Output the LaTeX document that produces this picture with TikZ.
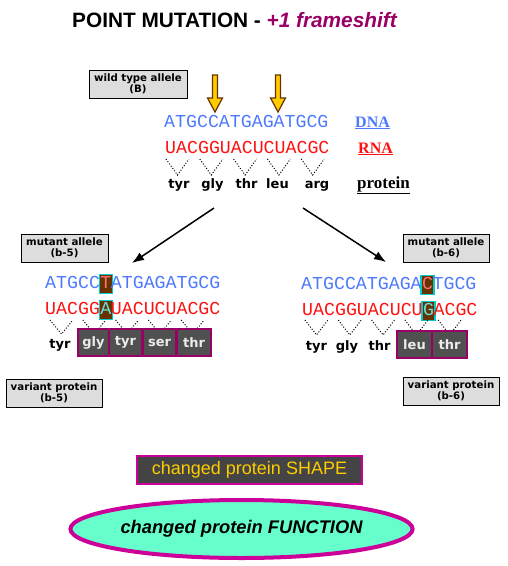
\documentclass[tikz,border=0pt]{standalone}
\usepackage{fontspec}
\setmainfont{Liberation Sans}
\newfontfamily\seqfont{Liberation Mono}
\newfontfamily\pixfont{DejaVu Sans}
\newfontfamily\labfont{Liberation Serif}
\usetikzlibrary{arrows.meta,shapes.geometric}

\definecolor{dnablue}{RGB}{77,121,255}
\definecolor{rnared}{RGB}{255,17,17}
\definecolor{titlepurple}{RGB}{153,0,102}
\definecolor{boxgray}{RGB}{221,221,221}
\definecolor{mutbrown}{RGB}{102,51,0}
\definecolor{mutcyan}{RGB}{0,204,204}
\definecolor{protgray}{RGB}{80,80,80}
\definecolor{shapegray}{RGB}{68,68,68}
\definecolor{magentaedge}{RGB}{204,0,153}
\definecolor{aqua}{RGB}{102,255,204}
\definecolor{gold}{RGB}{255,204,0}

\tikzset{
  seq/.style={anchor=base west,inner sep=0pt,font=\seqfont\fontsize{18.25}{20}\selectfont},
  mutletter/.style={seq,fill=mutbrown,draw=mutcyan,line width=1.2pt,
    inner xsep=1pt,text height=12pt,text depth=4pt,inner ysep=1.5pt},
  allelebox/.style={draw=black,fill=boxgray,line width=0.8pt,minimum width=#1,
    minimum height=28pt,align=center,inner sep=0pt,
    font=\pixfont\bfseries\fontsize{10.2}{11.5}\selectfont},
  aminoacid/.style={anchor=base,inner sep=0pt,font=\pixfont\bfseries\fontsize{13}{15}\selectfont},
  protbox/.style={draw=titlepurple,fill=protgray,line width=1.6pt,minimum width=#1,
    minimum height=27pt,inner sep=0pt,text=white!92!black,
    font=\pixfont\bfseries\fontsize{13}{15}\selectfont},
  codonv/.style={line width=1pt,dash pattern=on 1pt off 1.8pt},
  seqlabel/.style={anchor=base west,inner sep=0pt,font=\labfont\bfseries\fontsize{16}{18}\selectfont},
  goldarrow/.style={fill=gold,draw=mutbrown,line width=1.2pt,line join=miter},
  splitarrow/.style={line width=1.5pt,-{Latex[length=12pt,width=9pt]}}
}

\begin{document}
\begin{tikzpicture}[x=1pt,y=-1pt]
\useasboundingbox (0,0) rectangle (508,566);

% title
\node[anchor=base west,inner sep=0pt,font=\bfseries\fontsize{20.8}{23}\selectfont] (title) at (72,27)
  {POINT MUTATION - \textcolor{titlepurple}{\itshape +1 frameshift}};

% wild type
\node[allelebox=98pt] (wtallele) at (138,84) {wild type allele\\(B)};
\foreach \ax in {215,278}
  \draw[goldarrow] (\ax-2.5,75) -- (\ax+2.5,75) -- (\ax+2.5,98) -- (\ax+7.5,98)
    -- (\ax,112) -- (\ax-7.5,98) -- (\ax-2.5,98) -- cycle;
\node[seq,text=dnablue] (wtdna) at (164,127) {ATGCCATGAGATGCG};
\node[seq,text=rnared] (wtrna) at (165,153) {UACGGUACUCUACGC};
\node[seqlabel,text=dnablue] (dnalabel) at (355,127) {\underline{DNA}};
\node[seqlabel,text=rnared] (rnalabel) at (358,153) {\underline{RNA}};
\node[seqlabel,font=\labfont\bfseries\fontsize{17}{19}\selectfont] (protlabel) at (357,188) {\underline{protein}};
\foreach \k in {0,...,4}
  \draw[codonv] (166+33.8*\k,159) -- ++(11.5,16) -- ++(11.5,-16);
\node[aminoacid] (wt1) at (179,188) {tyr};
\node[aminoacid] (wt2) at (212.5,188) {gly};
\node[aminoacid] (wt3) at (246.5,188) {thr};
\node[aminoacid] (wt4) at (277.5,188) {leu};
\node[aminoacid] (wt5) at (317,188) {arg};

% split arrows
\coordinate (splitL) at (214,208);
\coordinate (splitR) at (303,208);
\coordinate (endL) at (132,263);
\coordinate (endR) at (386,262);
\draw[splitarrow] (splitL) -- (endL);
\draw[splitarrow] (splitR) -- (endR);

% mutant b-5
\node[allelebox=87pt] (allele5) at (64.5,248) {mutant allele\\(b-5)};
\node[seq,text=dnablue] (dna5a) at (45,288) {ATGCC};
\node[mutletter,text=rnared!60!white] (mut5t) at (45+5*10.95-1,288) {T};
\node[seq,text=dnablue] (dna5b) at (45+6*10.95,288) {ATGAGATGCG};
\node[seq,text=rnared] (rna5a) at (45,314) {UACGG};
\node[mutletter,text=mutcyan!60!white] (mut5a) at (45+5*10.95-1,314) {A};
\node[seq,text=rnared] (rna5b) at (45+6*10.95,314) {UACUCUACGC};
\foreach \k in {0,...,4}
  \draw[codonv] (50+32.8*\k,320) -- ++(11.5,14) -- ++(11.5,-14);
\node[aminoacid] (p5a) at (60,348) {tyr};
\node[protbox=31pt] (p5b) at (93.5,342.5) {gly};
\node[protbox=33pt] (p5c) at (125.5,342.5) {tyr};
\node[protbox=33pt] (p5d) at (159.5,342.5) {ser};
\node[protbox=34pt] (p5e) at (194,342.5) {thr};
\node[allelebox=96pt] (variant5) at (54,393) {variant protein\\(b-5)};

% mutant b-6
\node[allelebox=86pt] (allele6) at (446,248) {mutant allele\\(b-6)};
\node[seq,text=dnablue] (dna6a) at (301,289) {ATGCCATGAGA};
\node[mutletter,text=rnared!60!white] (mut6c) at (301+11*10.95-1,289) {C};
\node[seq,text=dnablue] (dna6b) at (301+12*10.95,289) {TGCG};
\node[seq,text=rnared] (rna6a) at (302,315) {UACGGUACUCU};
\node[mutletter,text=mutcyan!60!white] (mut6g) at (302+11*10.95-1,315) {G};
\node[seq,text=rnared] (rna6b) at (302+12*10.95,315) {ACGC};
\foreach \k in {0,...,4}
  \draw[codonv] (305+33.3*\k,320) -- ++(11.5,15) -- ++(11.5,-15);
\node[aminoacid] (p6a) at (316.5,350) {tyr};
\node[aminoacid] (p6b) at (347,350) {gly};
\node[aminoacid] (p6c) at (379.5,350) {thr};
\node[protbox=35pt] (p6d) at (414.5,344.5) {leu};
\node[protbox=35pt] (p6e) at (449.5,344.5) {thr};
\node[allelebox=96pt] (variant6) at (451,391) {variant protein\\(b-6)};

% consequences
\node[draw=magentaedge,fill=shapegray,line width=2pt,minimum width=225pt,minimum height=28pt,
  inner sep=0pt,text=gold,font=\fontsize{18}{20}\selectfont] (shape) at (249.5,470)
  {changed protein SHAPE};
\node[ellipse,draw=magentaedge,fill=aqua,line width=4pt,minimum width=314pt,minimum height=58pt,
  inner sep=0pt,font=\bfseries\itshape\fontsize{18.3}{20}\selectfont] (function) at (241.5,529)
  {changed protein FUNCTION};
\end{tikzpicture}
\end{document}
